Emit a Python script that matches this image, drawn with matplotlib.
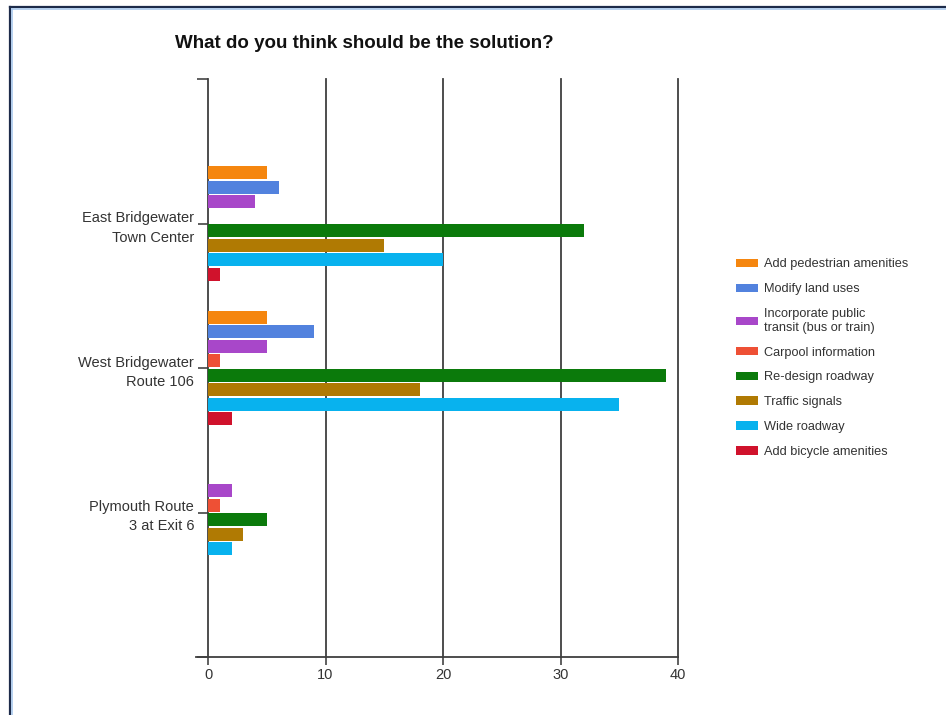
import matplotlib
matplotlib.use("Agg")
import matplotlib.pyplot as plt
from matplotlib.lines import Line2D
import numpy as np

# data
locations = ["East Bridgewater\nTown Center", "West Bridgewater\nRoute 106", "Plymouth Route\n3 at Exit 6"]
answers = ["Add pedestrian amenities", "Modify land uses", "Incorporate public\ntransit (bus or train)",
           "Carpool information", "Re-design roadway", "Traffic signals", "Wide roadway",
           "Add bicycle amenities"]
pedestrian = [5, 5, 0]
land_uses = [6, 9, 0]
transit = [4, 5, 2]
carpool = [0, 1, 1]
redesign = [32, 39, 5]
signals = [15, 18, 3]
wide = [20, 35, 2]
bicycle = [1, 2, 0]
x_ticks = [0, 10, 20, 30, 40]

series = [pedestrian, land_uses, transit, carpool, redesign, signals, wide, bicycle]
colors = ["#F5860F", "#5282DE", "#A847C9", "#EE5035", "#0B7A0B", "#B07A03", "#08B2EE", "#D0122C"]

plt.rcParams["font.family"] = ["Liberation Sans", "DejaVu Sans"]

fig = plt.figure(figsize=(9.46, 7.15), dpi=100)
ax = fig.add_axes([208 / 946, 1 - 657 / 715, 470 / 946, 578 / 715])

# bars
pos = np.arange(len(locations))
for i, (vals, col) in enumerate(zip(series, colors)):
    off = (i - 3.5) * 0.1
    ax.barh(pos + off, vals, height=0.09, color=col, label=answers[i], zorder=3)

ax.set_xlim(0, 40)
ax.set_ylim(3, -1)
ax.set_xticks(x_ticks)
ax.set_yticks(pos)
ax.set_yticklabels(locations, fontsize=10.5, color="#333333", linespacing=1.5)
ax.set_yticks([-1, 3], minor=True)
ax.tick_params(axis="y", which="major", length=7, width=1.2, color="#444444", pad=3)
ax.tick_params(axis="y", which="minor", length=8, width=1.2, color="#444444")
ax.tick_params(axis="x", length=6, width=1.2, color="#444444", labelsize=10.5, labelcolor="#333333", pad=2)
for lab in ax.get_yticklabels():
    lab.set_multialignment("right")

# gridlines and spines
for v in x_ticks[1:]:
    ax.axvline(v, color="#3f3f3f", lw=1.3, zorder=2, clip_on=False)
for s in ["top", "right"]:
    ax.spines[s].set_visible(False)
for s in ["left", "bottom"]:
    ax.spines[s].set_color("#3f3f3f")
    ax.spines[s].set_linewidth(1.3)
ax.add_line(Line2D([-1, 0], [3, 3], color="#3f3f3f", lw=1.3, clip_on=False))

# legend
leg = ax.legend(loc="upper left", bbox_to_anchor=(724 / 946, 1 - 247 / 715), bbox_transform=fig.transFigure,
                frameon=False, fontsize=9.2, handlelength=1.75, handleheight=0.65, handletextpad=0.5,
                labelspacing=1.0)
for t in leg.get_texts():
    t.set_color("#333333")

# title
fig.text(175 / 946, 1 - 44 / 715, "What do you think should be the solution?", fontsize=13.5,
         fontweight="bold", ha="left", va="center", color="#111111")

# frame around the picture
fig.add_artist(Line2D([10 / 946, 10 / 946], [0, 1 - 7 / 715], color="#1d2b4a", lw=1.6))
fig.add_artist(Line2D([10 / 946, 1], [1 - 7 / 715, 1 - 7 / 715], color="#1d2b4a", lw=1.6))
fig.add_artist(Line2D([12 / 946, 12 / 946], [0, 1 - 9 / 715], color="#a9c8ec", lw=1.2))
fig.add_artist(Line2D([12 / 946, 1], [1 - 9 / 715, 1 - 9 / 715], color="#a9c8ec", lw=1.2))

fig.savefig("out.png", dpi=100)
